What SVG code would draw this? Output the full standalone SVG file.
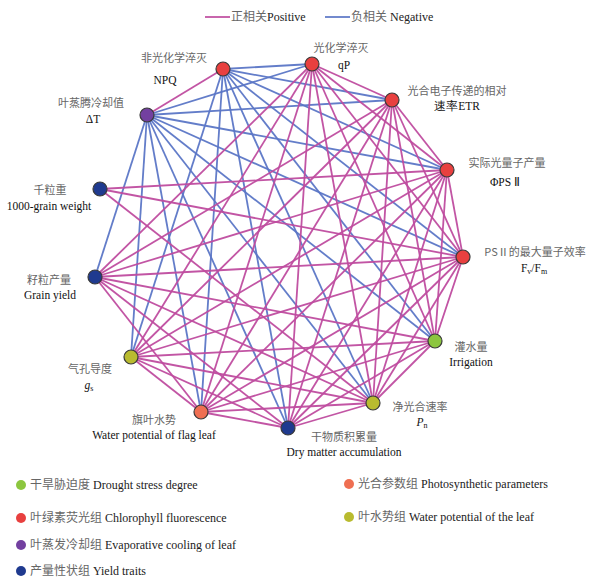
<svg xmlns="http://www.w3.org/2000/svg" width="592" height="582" viewBox="0 0 592 582">
<style>
.p{stroke:#bf4c9f;stroke-width:1.8;fill:none;stroke-opacity:0.95}
.n{stroke:#5b76c6;stroke-width:1.8;fill:none;stroke-opacity:0.95}
.nd{stroke:#3a3a3a;stroke-width:1.2}
.cn{font-family:"Noto Sans CJK SC","Liberation Serif",serif;font-size:11px;fill:#666}
.en{font-family:"Liberation Serif",serif;font-size:11.5px;fill:#111}
.lg{font-family:"Liberation Serif","Noto Sans CJK SC",serif;font-size:12px;fill:#222}
.lc{fill:#666}
.red{fill:#e8403f}.grn{fill:#8cc63f}.yel{fill:#b9bb2f}.nav{fill:#1f3a8f}.org{fill:#ef6f52}.pur{fill:#7340a0}
</style>
<rect width="592" height="582" fill="#fff"/>
<g id="legend-top">
<line x1="205" y1="17" x2="230" y2="17" class="p"/>
<text x="231" y="21" class="lg" font-size="11"><tspan class="lc">正相关</tspan>Positive</text>
<line x1="325" y1="17" x2="350" y2="17" class="n"/>
<text x="351" y="21" class="lg" font-size="11"><tspan class="lc">负相关</tspan> Negative</text>
</g>
<g id="connectors">
<line x1="223" y1="69" x2="312" y2="64" class="n"/>
<line x1="223" y1="69" x2="392" y2="100" class="n"/>
<line x1="223" y1="69" x2="447" y2="170" class="n"/>
<line x1="223" y1="69" x2="463" y2="257" class="n"/>
<line x1="223" y1="69" x2="435" y2="341" class="n"/>
<line x1="223" y1="69" x2="373" y2="403" class="n"/>
<line x1="223" y1="69" x2="288" y2="428" class="n"/>
<line x1="223" y1="69" x2="201" y2="412" class="n"/>
<line x1="223" y1="69" x2="131" y2="357" class="n"/>
<line x1="147" y1="115" x2="312" y2="64" class="n"/>
<line x1="147" y1="115" x2="392" y2="100" class="n"/>
<line x1="147" y1="115" x2="447" y2="170" class="n"/>
<line x1="147" y1="115" x2="463" y2="257" class="n"/>
<line x1="147" y1="115" x2="435" y2="341" class="n"/>
<line x1="147" y1="115" x2="373" y2="403" class="n"/>
<line x1="147" y1="115" x2="288" y2="428" class="n"/>
<line x1="147" y1="115" x2="201" y2="412" class="n"/>
<line x1="147" y1="115" x2="131" y2="357" class="n"/>
<line x1="147" y1="115" x2="95" y2="277" class="n"/>
<line x1="147" y1="115" x2="223" y2="69" class="p"/>
<line x1="312" y1="64" x2="392" y2="100" class="p"/>
<line x1="312" y1="64" x2="447" y2="170" class="p"/>
<line x1="312" y1="64" x2="463" y2="257" class="p"/>
<line x1="312" y1="64" x2="435" y2="341" class="p"/>
<line x1="312" y1="64" x2="373" y2="403" class="p"/>
<line x1="312" y1="64" x2="288" y2="428" class="p"/>
<line x1="312" y1="64" x2="201" y2="412" class="p"/>
<line x1="312" y1="64" x2="131" y2="357" class="p"/>
<line x1="312" y1="64" x2="95" y2="277" class="p"/>
<line x1="392" y1="100" x2="447" y2="170" class="p"/>
<line x1="392" y1="100" x2="463" y2="257" class="p"/>
<line x1="392" y1="100" x2="435" y2="341" class="p"/>
<line x1="392" y1="100" x2="373" y2="403" class="p"/>
<line x1="392" y1="100" x2="288" y2="428" class="p"/>
<line x1="392" y1="100" x2="201" y2="412" class="p"/>
<line x1="392" y1="100" x2="131" y2="357" class="p"/>
<line x1="392" y1="100" x2="95" y2="277" class="p"/>
<line x1="447" y1="170" x2="463" y2="257" class="p"/>
<line x1="447" y1="170" x2="435" y2="341" class="p"/>
<line x1="447" y1="170" x2="373" y2="403" class="p"/>
<line x1="447" y1="170" x2="288" y2="428" class="p"/>
<line x1="447" y1="170" x2="201" y2="412" class="p"/>
<line x1="447" y1="170" x2="131" y2="357" class="p"/>
<line x1="447" y1="170" x2="95" y2="277" class="p"/>
<line x1="463" y1="257" x2="435" y2="341" class="p"/>
<line x1="463" y1="257" x2="373" y2="403" class="p"/>
<line x1="463" y1="257" x2="288" y2="428" class="p"/>
<line x1="463" y1="257" x2="201" y2="412" class="p"/>
<line x1="463" y1="257" x2="131" y2="357" class="p"/>
<line x1="463" y1="257" x2="95" y2="277" class="p"/>
<line x1="435" y1="341" x2="373" y2="403" class="p"/>
<line x1="435" y1="341" x2="288" y2="428" class="p"/>
<line x1="435" y1="341" x2="201" y2="412" class="p"/>
<line x1="435" y1="341" x2="131" y2="357" class="p"/>
<line x1="435" y1="341" x2="95" y2="277" class="p"/>
<line x1="373" y1="403" x2="288" y2="428" class="p"/>
<line x1="373" y1="403" x2="201" y2="412" class="p"/>
<line x1="373" y1="403" x2="131" y2="357" class="p"/>
<line x1="373" y1="403" x2="95" y2="277" class="p"/>
<line x1="288" y1="428" x2="201" y2="412" class="p"/>
<line x1="288" y1="428" x2="131" y2="357" class="p"/>
<line x1="288" y1="428" x2="95" y2="277" class="p"/>
<line x1="201" y1="412" x2="131" y2="357" class="p"/>
<line x1="201" y1="412" x2="95" y2="277" class="p"/>
<line x1="100" y1="189" x2="447" y2="170" class="p"/>
<line x1="100" y1="189" x2="463" y2="257" class="p"/>
<line x1="100" y1="189" x2="373" y2="403" class="p"/>
</g>
<g id="node-NPQ"><circle cx="223" cy="69" r="7" class="nd red"/><text x="174" y="62" text-anchor="middle" class="cn">非光化学淬灭</text><text x="165" y="84" text-anchor="middle" class="en">NPQ</text></g>
<g id="node-qP"><circle cx="312" cy="64" r="7" class="nd red"/><text x="341" y="52" text-anchor="middle" class="cn">光化学淬灭</text><text x="344" y="69" text-anchor="middle" class="en">qP</text></g>
<g id="node-ETR"><circle cx="392" cy="100" r="7" class="nd red"/><text x="457" y="95" text-anchor="middle" class="cn">光合电子传递的相对</text><text x="457" y="110" text-anchor="middle" class="en">速率ETR</text></g>
<g id="node-PSII"><circle cx="447" cy="170" r="7" class="nd red"/><text x="507" y="167" text-anchor="middle" class="cn">实际光量子产量</text><text x="505" y="186" text-anchor="middle" class="en">ΦPS Ⅱ</text></g>
<g id="node-FvFm"><circle cx="463" cy="257" r="7" class="nd red"/><text x="535" y="256" text-anchor="middle" class="cn">PSⅡ的最大量子效率</text><text x="534" y="272" text-anchor="middle" class="en">F<tspan font-size="8" dy="2">v</tspan><tspan dy="-2">/F</tspan><tspan font-size="8" dy="2">m</tspan></text></g>
<g id="node-Irr"><circle cx="435" cy="341" r="7" class="nd grn"/><text x="471" y="351" text-anchor="middle" class="cn">灌水量</text><text x="471" y="366" text-anchor="middle" class="en">Irrigation</text></g>
<g id="node-Pn"><circle cx="373" cy="403" r="7" class="nd yel"/><text x="420" y="411" text-anchor="middle" class="cn">净光合速率</text><text x="422" y="426" text-anchor="middle" class="en" font-style="italic">P<tspan font-style="normal" font-size="8" dy="2">n</tspan></text></g>
<g id="node-DM"><circle cx="288" cy="428" r="7" class="nd nav"/><text x="344" y="441" text-anchor="middle" class="cn">干物质积累量</text><text x="344" y="456" text-anchor="middle" class="en">Dry matter accumulation</text></g>
<g id="node-FLWP"><circle cx="201" cy="412" r="7" class="nd org"/><text x="154" y="424" text-anchor="middle" class="cn">旗叶水势</text><text x="154" y="439" text-anchor="middle" class="en">Water potential of flag leaf</text></g>
<g id="node-gs"><circle cx="131" cy="357" r="7" class="nd yel"/><text x="90" y="373" text-anchor="middle" class="cn">气孔导度</text><text x="89" y="389" text-anchor="middle" class="en" font-style="italic">g<tspan font-style="normal" font-size="8" dy="2">s</tspan></text></g>
<g id="node-GY"><circle cx="95" cy="277" r="7" class="nd nav"/><text x="49" y="284" text-anchor="middle" class="cn">籽粒产量</text><text x="50" y="299" text-anchor="middle" class="en">Grain yield</text></g>
<g id="node-TGW"><circle cx="100" cy="189" r="7" class="nd nav"/><text x="50" y="194" text-anchor="middle" class="cn">千粒重</text><text x="49" y="210" text-anchor="middle" class="en">1000-grain weight</text></g>
<g id="node-dT"><circle cx="147" cy="115" r="7" class="nd pur"/><text x="91" y="107" text-anchor="middle" class="cn">叶蒸腾冷却值</text><text x="93" y="123" text-anchor="middle" class="en">ΔT</text></g>
<g id="legend-bottom">
<circle cx="21" cy="485" r="5" class="grn"/><text x="30" y="489" class="lg"><tspan class="lc">干旱胁迫度</tspan> Drought stress degree</text>
<circle cx="21" cy="518" r="5" class="red"/><text x="30" y="522" class="lg"><tspan class="lc">叶绿素荧光组</tspan> Chlorophyll fluorescence</text>
<circle cx="21" cy="545" r="5" class="pur"/><text x="30" y="549" class="lg"><tspan class="lc">叶蒸发冷却组</tspan> Evaporative cooling of leaf</text>
<circle cx="21" cy="571" r="5" class="nav"/><text x="30" y="575" class="lg"><tspan class="lc">产量性状组</tspan> Yield traits</text>
<circle cx="349" cy="484" r="5" class="org"/><text x="358" y="488" class="lg"><tspan class="lc">光合参数组</tspan> Photosynthetic parameters</text>
<circle cx="349" cy="517" r="5" class="yel"/><text x="358" y="521" class="lg"><tspan class="lc">叶水势组</tspan> Water potential of the leaf</text>
</g>
</svg>
